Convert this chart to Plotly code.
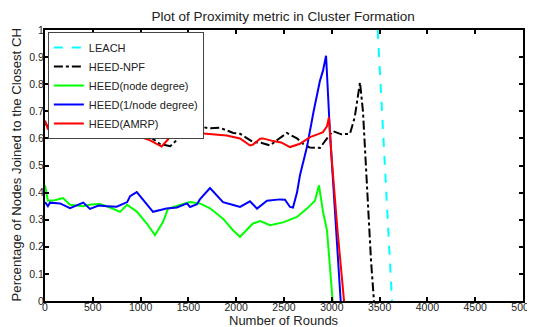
import plotly.graph_objects as go

# ---- data ----
leach_x = [3480, 3630]
leach_y = [1.0, 0.0]

npf_x = [0, 30, 120, 230, 330, 440, 560, 680, 800, 920, 1020, 1100, 1200, 1310, 1410, 1517, 1620,
         1720, 1830, 1970, 2040, 2180, 2260, 2354, 2440, 2530, 2636, 2700, 2770, 2876, 2950, 3012,
         3100, 3190, 3240, 3295, 3326, 3370, 3410, 3441]
npf_y = [0.66, 0.641, 0.632, 0.629, 0.627, 0.625, 0.632, 0.639, 0.632, 0.627, 0.62, 0.605, 0.58,
         0.571, 0.605, 0.636, 0.644, 0.637, 0.639, 0.62, 0.617, 0.586, 0.584, 0.574, 0.597, 0.62,
         0.60, 0.58, 0.566, 0.565, 0.60, 0.627, 0.615, 0.617, 0.678, 0.807, 0.70, 0.40, 0.15, 0.0]

nd_x = [0, 30, 100, 188, 262, 400, 480, 575, 680, 785, 858, 960, 1065, 1150, 1235, 1285, 1410,
        1517, 1620, 1726, 1862, 1966, 2040, 2110, 2175, 2250, 2354, 2490, 2636, 2740, 2824, 2866,
        2908, 2950, 2980, 3009]
nd_y = [0.427, 0.37, 0.372, 0.38, 0.355, 0.35, 0.356, 0.358, 0.345, 0.329, 0.355, 0.33, 0.286,
        0.243, 0.292, 0.34, 0.354, 0.365, 0.36, 0.342, 0.304, 0.261, 0.237, 0.262, 0.286, 0.295,
        0.28, 0.29, 0.31, 0.341, 0.37, 0.427, 0.33, 0.26, 0.114, 0.0]

ind_x = [0, 30, 52, 157, 262, 400, 470, 560, 650, 750, 860, 890, 960, 1030, 1130, 1270, 1380,
         1485, 1517, 1590, 1620, 1726, 1862, 1960, 2040, 2144, 2218, 2322, 2458, 2510, 2563, 2594,
         2636, 2667, 2740, 2810, 2876, 2908, 2940, 2981, 3040, 3093]
ind_y = [0.365, 0.35, 0.363, 0.36, 0.343, 0.363, 0.34, 0.352, 0.35, 0.348, 0.365, 0.387, 0.402,
         0.372, 0.329, 0.341, 0.345, 0.36, 0.347, 0.357, 0.375, 0.417, 0.365, 0.355, 0.347, 0.368,
         0.341, 0.37, 0.375, 0.374, 0.347, 0.345, 0.40, 0.464, 0.568, 0.70, 0.813, 0.85, 0.905,
         0.62, 0.30, 0.0]

amrp_x = [0, 30, 120, 230, 440, 560, 680, 800, 920, 1100, 1220, 1340, 1485, 1655, 1695, 1830,
          1900, 2040, 2070, 2145, 2175, 2250, 2280, 2385, 2470, 2563, 2667, 2772, 2850, 2908, 2950,
          2970, 3000, 3060, 3128]
amrp_y = [0.666, 0.635, 0.628, 0.626, 0.62, 0.622, 0.626, 0.62, 0.615, 0.593, 0.57, 0.617, 0.622,
          0.618, 0.617, 0.611, 0.611, 0.60, 0.593, 0.574, 0.577, 0.599, 0.60, 0.59, 0.585, 0.568,
          0.58, 0.605, 0.615, 0.623, 0.645, 0.678, 0.52, 0.26, 0.0]

x_ticks = [0, 500, 1000, 1500, 2000, 2500, 3000, 3500, 4000, 4500, 5000]
y_ticks = [0, 0.1, 0.2, 0.3, 0.4, 0.5, 0.6, 0.7, 0.8, 0.9, 1]
y_tick_text = ["0", "0.1", "0.2", "0.3", "0.4", "0.5", "0.6", "0.7", "0.8", "0.9", "1"]

FONT = "Liberation Sans, Arial"

fig = go.Figure()
fig.add_trace(go.Scatter(x=leach_x, y=leach_y, mode="lines", name="LEACH",
                         line=dict(color="#00FFFF", width=2, dash="dash")))
fig.add_trace(go.Scatter(x=npf_x, y=npf_y, mode="lines", name="HEED-NPF",
                         line=dict(color="#000000", width=2, dash="dashdot")))
fig.add_trace(go.Scatter(x=nd_x, y=nd_y, mode="lines", name="HEED(node degree)",
                         line=dict(color="#00FF00", width=2)))
fig.add_trace(go.Scatter(x=ind_x, y=ind_y, mode="lines", name="HEED(1/node degree)",
                         line=dict(color="#0000FF", width=2)))
fig.add_trace(go.Scatter(x=amrp_x, y=amrp_y, mode="lines", name="HEED(AMRP)",
                         line=dict(color="#FF0000", width=2)))

axis_common = dict(showline=True, linecolor="black", linewidth=2, mirror="allticks",
                   ticks="inside", ticklen=4, tickwidth=2, tickcolor="black",
                   showgrid=False, zeroline=False, automargin=False,
                   ticklabeloverflow="allow",
                   tickfont=dict(family=FONT, size=10.5, color="#222"))

fig.update_xaxes(range=[0, 5000], tickvals=x_ticks, ticktext=[str(v) for v in x_ticks],
                 ticklabelstandoff=-5, **axis_common)
fig.update_yaxes(range=[0, 1], tickvals=y_ticks, ticktext=y_tick_text,
                 ticklabelstandoff=-3, **axis_common)

# The page has an 8px body margin, so the figure is 8px smaller than the window.
fig.update_layout(
    width=527, height=319,
    margin=dict(l=37, r=12, t=22, b=26),
    paper_bgcolor="white", plot_bgcolor="white",
    title=dict(text="Plot of Proximity metric in Cluster Formation", x=0.522, xanchor="center",
               y=0.975, yanchor="middle",
               font=dict(family=FONT, size=13.5, color="#222")),
    legend=dict(x=0.006, y=0.993, xanchor="left", yanchor="top",
                bgcolor="white", bordercolor="#444", borderwidth=1,
                font=dict(family=FONT, size=11, color="#222"),
                itemwidth=30, tracegroupgap=0),
    showlegend=True,
    annotations=[
        dict(text="Number of Rounds", xref="paper", yref="paper", x=0.5, y=0,
             xanchor="center", yanchor="middle", yshift=-19.5, showarrow=False,
             font=dict(family=FONT, size=13, color="#222")),
        dict(text="Percentage of Nodes Joined to the Closest CH", xref="paper", yref="paper",
             x=0, y=0.5, xanchor="center", yanchor="middle", xshift=-29, textangle=-90,
             showarrow=False, font=dict(family=FONT, size=13.2, color="#222")),
    ],
)

fig.write_html("out.html")
